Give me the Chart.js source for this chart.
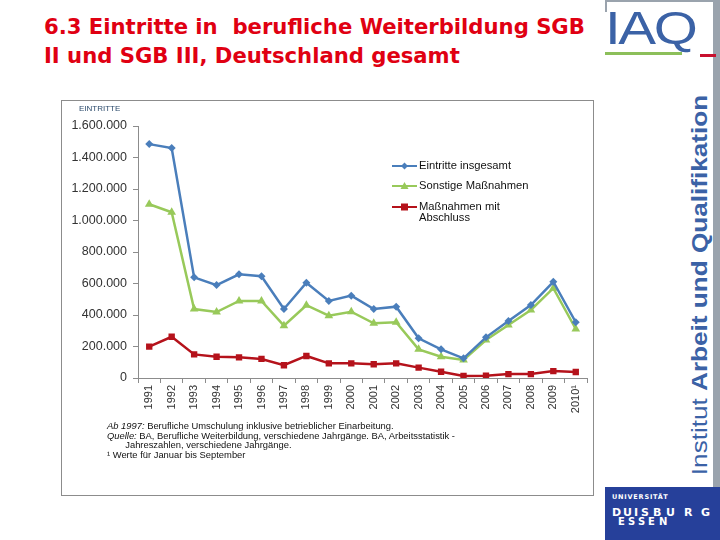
<!DOCTYPE html>
<html>
<head>
<meta charset="utf-8">
<script src="https://cdn.jsdelivr.net/npm/chart.js@4.4.0/dist/chart.umd.min.js"></script>
<style>
  body { margin: 0; background: #fff; width: 720px; height: 540px; position: relative; overflow: hidden; font-family: 'Liberation Sans', Arial, sans-serif; }
  .abs { position: absolute; white-space: nowrap; }
  #title { left: 44px; top: 13px; color: #e00012; font: bold 21px 'DejaVu Sans', sans-serif; line-height: 29px; white-space: pre; transform-origin: 0 0; }
  #box { left: 61px; top: 100px; width: 531px; height: 394px; border: 1px solid #8c8c8c; }
  #note { left: 107px; top: 421px; font-size: 9.4px; line-height: 9.6px; color: #111; white-space: pre; }
  #vert { left: 700px; top: 285px; color: #3b62a6; font: 22px 'Liberation Sans', Arial, sans-serif; white-space: pre; }
  #iaq { left: 605px; top: 3px; color: #3b62a6; font: 46px 'Liberation Sans', Arial, sans-serif; line-height: 50px; letter-spacing: -2px; transform-origin: 0 0; }
  .u { position: absolute; color: #fff; font-family: 'DejaVu Sans', sans-serif; font-weight: bold; }
</style>
</head>
<body>
<div class="abs" style="left:605px;top:0;width:115px;height:2px;background:#9aa3ad"></div>
<div class="abs" style="left:605px;top:0;width:2px;height:12px;background:#9aa3ad"></div>
<div class="abs" style="left:713px;top:0;width:7px;height:487px;background:#9aa3ad"></div>
<div class="abs" id="iaq">IAQ</div>
<div class="abs" style="left:605px;top:52px;width:77px;height:3px;background:#8cbf5a"></div>
<div class="abs" style="left:700px;top:54px;width:16px;height:3px;background:#c8102e"></div>
<div class="abs" id="vert">Institut <b>Arbeit und Qualifikation</b></div>
<div class="abs" id="uni" style="left:605px;top:487px;width:115px;height:53px;background:#26409a"></div>
<div class="abs" id="title">6.3 Eintritte in  berufliche Weiterbildung SGB
II und SGB III, Deutschland gesamt</div>
<div class="abs" id="box"></div>
<canvas class="abs" id="myChart" width="530" height="393" style="left:62px;top:101px"></canvas>
<div class="abs" id="note"><i>Ab 1997:</i> Berufliche Umschulung inklusive betrieblicher Einarbeitung.
<i>Quelle:</i> BA, Berufliche Weiterbildung, verschiedene Jahrgänge. BA, Arbeitsstatistik -
       Jahreszahlen, verschiedene Jahrgänge.
¹ Werte für Januar bis September</div>
<script>
var years = ['1991', '1992', '1993', '1994', '1995', '1996', '1997', '1998', '1999', '2000',
    '2001', '2002', '2003', '2004', '2005', '2006', '2007', '2008', '2009', '2010¹'];
var eintritteInsgesamt = [1485000, 1460000, 639000, 590000, 658000, 646000, 438000, 605000, 489000, 523000,
    438000, 453000, 252000, 182000, 125000, 258000, 362000, 463000, 611000, 354000];
var sonstigeMassnahmen = [1103000, 1052000, 438000, 419000, 489000, 489000, 332000, 462000, 396000, 421000,
    347000, 354000, 182000, 135000, 114000, 241000, 337000, 432000, 570000, 311000];
var massnahmenAbschluss = [199000, 262000, 150000, 135000, 131000, 121000, 81000, 140000, 93000, 93000,
    87000, 93000, 66000, 40000, 13000, 15000, 25000, 25000, 44000, 38000];
var yTicks = [0, 200000, 400000, 600000, 800000, 1000000, 1200000, 1400000, 1600000];

// fit slide texts to the widths in the original
var title = document.getElementById('title');
title.style.transform = 'scaleX(' + (541 / title.offsetWidth) + ')';
var iaq = document.getElementById('iaq');
iaq.style.transform = 'scaleX(' + (90 / iaq.offsetWidth) + ')';
var vert = document.getElementById('vert');
vert.style.transform = 'translate(-50%, -50%) rotate(-90deg) scaleX(' + (380 / vert.offsetWidth) + ')';

// university logo letters
var uni = document.getElementById('uni');
function letter(t, x, y, size, extra) {
    var d = document.createElement('div');
    d.className = 'u';
    d.textContent = t;
    d.style.left = x + 'px';
    d.style.top = y + 'px';
    d.style.fontSize = size + 'px';
    if (extra) d.style.letterSpacing = extra;
    uni.appendChild(d);
}
letter('UNIVERSITÄT', 7, 6, 6.5, '0.8px');
[['D', 7], ['U', 18], ['I', 29], ['S', 36], ['B', 48], ['U', 61], ['R', 79], ['G', 96]].forEach(function (p) {
    letter(p[0], p[1], 19, 11);
});
[['E', 13], ['S', 23], ['S', 33], ['E', 43], ['N', 54]].forEach(function (p) {
    letter(p[0], p[1], 29, 10);
});

function fmt(v) {
    return v.toString().replace(/\B(?=(\d{3})+(?!\d))/g, '.');
}

var legendPlugin = {
    id: 'sideLegend',
    afterDraw: function (chart) {
        var c = chart.ctx;
        var items = [
            { ds: 0, y: 65, lines: ['Eintritte insgesamt'] },
            { ds: 1, y: 85, lines: ['Sonstige Maßnahmen'] },
            { ds: 2, y: 106, lines: ['Maßnahmen mit', 'Abschluss'] }
        ];
        c.save();
        items.forEach(function (it) {
            var ds = chart.data.datasets[it.ds];
            c.strokeStyle = ds.borderColor;
            c.lineWidth = 2;
            c.beginPath();
            c.moveTo(330, it.y);
            c.lineTo(355, it.y);
            c.stroke();
            c.fillStyle = ds.backgroundColor;
            c.beginPath();
            if (ds.pointStyle === 'rectRot') {
                c.moveTo(342.5, it.y - 3.5); c.lineTo(346, it.y); c.lineTo(342.5, it.y + 3.5); c.lineTo(339, it.y);
            } else if (ds.pointStyle === 'triangle') {
                c.moveTo(342.5, it.y - 4); c.lineTo(346.5, it.y + 3); c.lineTo(338.5, it.y + 3);
            } else {
                c.rect(339, it.y - 3.5, 7, 7);
            }
            c.fill();
            c.fillStyle = '#111';
            c.font = '11.2px "Liberation Sans", Arial, sans-serif';
            c.textBaseline = 'middle';
            it.lines.forEach(function (t, i) {
                c.fillText(t, 357, it.y + i * 11);
            });
        });
        c.fillStyle = '#2b4a6b';
        c.font = '8px "Liberation Sans", Arial, sans-serif';
        c.textBaseline = 'alphabetic';
        c.fillText('EINTRITTE', 17, 10);
        c.restore();
    }
};

var ctx = document.getElementById('myChart').getContext('2d');
var myChart = new Chart(ctx, {
    type: 'line',
    data: {
        labels: years,
        datasets: [{
            label: 'Eintritte insgesamt',
            data: eintritteInsgesamt,
            borderColor: '#4a7ebb',
            backgroundColor: '#4a7ebb',
            pointStyle: 'rectRot',
            pointRadius: 4
        }, {
            label: 'Sonstige Maßnahmen',
            data: sonstigeMassnahmen,
            borderColor: '#98c95a',
            backgroundColor: '#98c95a',
            pointStyle: 'triangle',
            pointRadius: 5
        }, {
            label: 'Maßnahmen mit Abschluss',
            data: massnahmenAbschluss,
            borderColor: '#b5121b',
            backgroundColor: '#b5121b',
            pointStyle: 'rect',
            pointRadius: 4.5
        }]
    },
    options: {
        responsive: false,
        animation: false,
        elements: { line: { borderWidth: 2.5, tension: 0 }, point: { borderWidth: 0 } },
        layout: { padding: { left: 0, top: 25, right: 4.7, bottom: 0 } },
        plugins: {
            legend: { display: false },
            tooltip: { enabled: false }
        },
        scales: {
            x: {
                offset: true,
                grid: { display: true, drawOnChartArea: false, offset: true, tickLength: 5, color: '#8c8c8c' },
                border: { color: '#8c8c8c' },
                ticks: {
                    autoSkip: false, maxRotation: 90, minRotation: 90, padding: 2,
                    color: '#333', font: { family: "'Liberation Sans', Arial", size: 11 }
                },
                afterFit: function (axis) { axis.height = 116; }
            },
            y: {
                min: 0,
                max: 1600000,
                afterBuildTicks: function (axis) {
                    axis.ticks = yTicks.map(function (v) { return { value: v }; });
                },
                grid: { display: true, drawOnChartArea: false, tickLength: 5, color: '#8c8c8c' },
                border: { color: '#8c8c8c' },
                ticks: {
                    padding: 6, color: '#333',
                    font: { family: "'Liberation Sans', Arial", size: 12.5 },
                    callback: function (v) { return fmt(v); }
                },
                afterFit: function (axis) { axis.width = 76; }
            }
        }
    },
    plugins: [legendPlugin]
});
</script>
</body>
</html>
